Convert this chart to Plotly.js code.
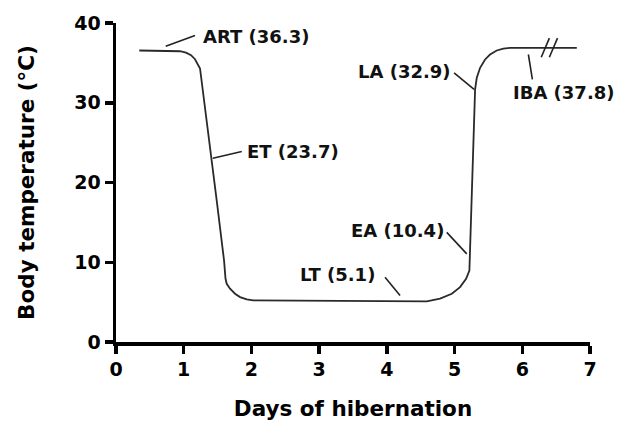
<!DOCTYPE html>
<html>
<head>
<meta charset="utf-8">
<script src="https://cdn.plot.ly/plotly-3.0.1.min.js"></script>
<style>html,body{margin:0;padding:0;background:#fff;}#chart{width:629px;height:444px;}</style>
</head>
<body>
<div id="chart"></div>
<script>
// Body temperature trace
var days = [0.344, 0.842, 0.945, 1.034, 1.108, 1.167, 1.211, 1.241, 1.488, 1.596, 1.617, 1.635, 1.684, 1.758, 1.832, 1.931, 2.024,
            4.589, 4.786, 4.959, 5.081, 5.170, 5.219, 5.254, 5.303, 5.328, 5.377, 5.451, 5.524, 5.623, 5.721, 5.820, 6.805];
var temps = [36.55, 36.53, 36.46, 36.28, 35.96, 35.46, 34.84, 34.3, 17.7, 10.2, 7.96, 7.30, 6.68, 6.05, 5.63, 5.34, 5.21,
             5.1, 5.43, 6.05, 6.88, 7.93, 8.96, 17.71, 31.68, 33.13, 34.38, 35.43, 36.05, 36.55, 36.80, 36.88, 36.88];

// Phase labels
var labelTexts = ['ART (36.3)', 'ET (23.7)', 'LA (32.9)', 'IBA (37.8)', 'EA (10.4)', 'LT (5.1)'];
var xTicks = [0, 1, 2, 3, 4, 5, 6, 7];
var yTicks = [0, 10, 20, 30, 40];

// layout positions of labels and leader lines (data coordinates)
var labelPos = [
  {x: 1.25, y: 38.3, xa: 'left'},
  {x: 1.90, y: 23.9, xa: 'left'},
  {x: 4.97, y: 33.9, xa: 'right'},
  {x: 5.83, y: 31.3, xa: 'left'},
  {x: 4.87, y: 14.0, xa: 'right'},
  {x: 3.85, y: 8.5, xa: 'right'}
];
var leaders = [
  [0.734, 37.09, 1.167, 38.43],
  [1.43, 23.05, 1.857, 23.88],
  [4.993, 33.75, 5.288, 31.68],
  [6.09, 36.05, 6.149, 32.93],
  [4.885, 13.75, 5.18, 11.05],
  [3.973, 8.13, 4.195, 5.84]
];
var breaks = [
  [6.28, 35.7, 6.40, 38.1],
  [6.40, 35.7, 6.52, 38.1]
];

var shapes = [];
leaders.concat(breaks).forEach(function(s){
  shapes.push({type:'line', xref:'x', yref:'y', x0:s[0], y0:s[1], x1:s[2], y1:s[3],
    line:{color:'#222', width:1.6}});
});

var annotations = labelTexts.map(function(t, i){
  return {x: labelPos[i].x, y: labelPos[i].y, xref:'x', yref:'y', text: t, showarrow:false,
    xanchor: labelPos[i].xa, yanchor:'middle',
    font:{family:'DejaVu Sans', size:18, color:'#111', weight:'bold'}};
});

var trace = {x: days, y: temps, type:'scatter', mode:'lines',
  line:{color:'#2a2a2a', width:1.8}, hoverinfo:'skip'};

var axisFont = {family:'DejaVu Sans', size:19, color:'#000', weight:'bold'};
var titleFont = {family:'DejaVu Sans', size:21.5, color:'#000', weight:'bold'};

var layout = {
  width:629, height:444,
  margin:{l:116, r:39, t:23, b:102},
  paper_bgcolor:'#fff', plot_bgcolor:'#fff',
  showlegend:false,
  xaxis:{range:[0,7], tickvals:xTicks, ticktext:xTicks.map(String), showgrid:false, zeroline:false,
    showline:true, linecolor:'#000', linewidth:3.5, ticks:'outside', ticklen:8, tickwidth:3.5, tickcolor:'#000',
    tickfont:axisFont, title:{text:'Days of hibernation', font:titleFont, standoff:22}},
  yaxis:{range:[0,40], tickvals:yTicks, ticktext:yTicks.map(String), showgrid:false, zeroline:false,
    showline:true, linecolor:'#000', linewidth:3.5, ticks:'outside', ticklen:8, tickwidth:3.5, tickcolor:'#000',
    tickfont:axisFont, title:{text:'Body temperature (°C)', font:titleFont, standoff:34}},
  shapes: shapes,
  annotations: annotations
};

Plotly.newPlot('chart', [trace], layout, {displayModeBar:false, staticPlot:true});
</script>
</body>
</html>
